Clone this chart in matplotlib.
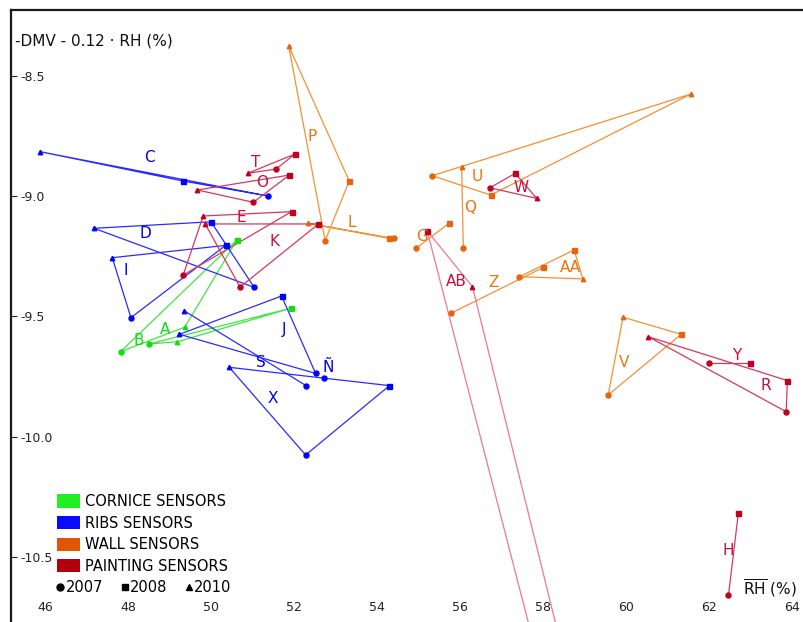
import numpy as np
import matplotlib
matplotlib.use("Agg")
import matplotlib.pyplot as plt
from matplotlib.patches import Patch
from matplotlib.lines import Line2D

nan = np.nan

# sensores y grupo al que pertenecen
sensors = ["A", "B",
           "C", "D", "I", "J", "Ñ", "S", "X",
           "G", "L", "P", "Q", "U", "V", "Z", "AA",
           "E", "H", "K", "O", "R", "T", "W", "Y", "AB"]
groups = ["cornice"] * 2 + ["ribs"] * 7 + ["wall"] * 8 + ["painting"] * 9

# humedad relativa media (%) por campaña
rh_2007 = [48.51, 47.82,
           51.37, 51.04, 48.07, 52.52, 52.73, 52.29, 52.28,
           54.94, 54.40, 52.75, 56.08, 55.33, 59.57, 55.78, 57.43,
           49.33, 62.47, 50.70, 51.02, 63.86, 51.57, 56.72, 62.01, 72.43]
rh_2008 = [51.92, 50.62,
           49.33, 50.00, 50.35, 51.70, nan, nan, 54.30,
           55.74, 54.30, 53.33, nan, 56.74, 61.33, 58.01, 58.75,
           51.94, 62.71, 52.59, 51.89, 63.89, 52.02, 57.33, 62.99, 55.21]
rh_2010 = [49.19, 49.37,
           45.88, 47.18, 47.62, 49.24, nan, 49.35, 50.44,
           nan, 52.33, 51.87, 56.04, 61.56, 59.93, nan, 58.96,
           49.81, nan, 49.86, 49.67, 60.54, 50.88, 57.85, nan, 56.30]

# -DMV - 0.12 RH por campaña
dmv_2007 = [-9.614, -9.646,
            -9.000, -9.379, -9.505, -9.736, -9.756, -9.787, -10.075,
            -9.217, -9.176, -9.185, -9.215, -8.916, -9.826, -9.487, -9.335,
            -9.328, -10.656, -9.378, -9.026, -9.895, -8.888, -8.966, -9.694, -20.63]
dmv_2008 = [-9.466, -9.183,
            -8.938, -9.107, -9.205, -9.415, nan, nan, -9.787,
            -9.113, -9.176, -8.938, nan, -8.996, -9.574, -9.296, -9.224,
            -9.065, -10.314, -9.116, -8.913, -9.766, -8.826, -8.906, -9.694, -9.145]
dmv_2010 = [-9.605, -9.544,
            -8.816, -9.134, -9.256, -9.574, nan, -9.476, -9.711,
            nan, -9.113, -8.376, -8.881, -8.577, -9.503, nan, -9.344,
            -9.083, nan, -9.116, -8.975, -9.584, -8.906, -9.010, nan, -9.376]

years = [2007, 2008, 2010]
year_markers = {2007: "o", 2008: "s", 2010: "^"}

legend_labels = ["CORNICE SENSORS", "RIBS SENSORS", "WALL SENSORS", "PAINTING SENSORS"]
xticks = [46, 48, 50, 52, 54, 56, 58, 60, 62, 64]
yticks = [-8.5, -9.0, -9.5, -10.0, -10.5]

# colores: (linea, marcador, etiqueta, leyenda)
colors = {
    "cornice": ("#3fe83f", "#12dd12", "#10dd10", "#22ee22"),
    "ribs": ("#2a2aff", "#0000ff", "#0000e6", "#0a0aff"),
    "wall": ("#f29235", "#e6630f", "#e8740c", "#e05508"),
    "painting": ("#d6385f", "#c0001e", "#c4123c", "#b00010"),
}

# posicion de las etiquetas de cada sensor
label_pos = {
    "P": (52.43, -8.755), "C": (48.51, -8.842), "T": (51.08, -8.859),
    "O": (51.23, -8.946), "E": (50.72, -9.091), "D": (48.41, -9.154),
    "L": (53.40, -9.112), "K": (51.54, -9.187), "I": (47.95, -9.311),
    "G": (55.08, -9.170), "U": (56.41, -8.917), "W": (57.47, -8.963),
    "Q": (56.24, -9.046), "AB": (55.90, -9.353), "Z": (56.80, -9.357),
    "AA": (58.67, -9.295), "A": (48.89, -9.556), "B": (48.27, -9.598),
    "J": (51.76, -9.552), "S": (51.20, -9.689), "Ñ": (52.82, -9.710),
    "X": (51.49, -9.842), "V": (59.95, -9.689), "Y": (62.67, -9.664),
    "R": (63.37, -9.788), "H": (62.46, -10.473),
}

plt.rcParams["font.family"] = ["DejaVu Sans"]

fig = plt.figure(figsize=(8.04, 6.22), dpi=100)
ax = fig.add_axes([11 / 804, 0, 1 - 11 / 804, 1 - 10 / 622])

rh = np.array([rh_2007, rh_2008, rh_2010]).T
dmv = np.array([dmv_2007, dmv_2008, dmv_2010]).T

for i, name in enumerate(sensors):
    line_c, mark_c, text_c, _ = colors[groups[i]]
    ok = ~np.isnan(rh[i])
    xs = rh[i][ok]
    ys = dmv[i][ok]
    if len(xs) > 2:
        xs = np.append(xs, xs[0])
        ys = np.append(ys, ys[0])
    if len(xs) > 1:
        lc = "#e87a92" if name == "AB" else line_c
        ax.plot(xs, ys, color=lc, lw=0.9, zorder=2)
    for j, yr in enumerate(years):
        if ok[j]:
            ax.plot(rh[i][j], dmv[i][j], ls="none", marker=year_markers[yr],
                    ms=3.6 if yr != 2010 else 3.2, color=mark_c, mec=mark_c, zorder=3)
    lx, ly = label_pos[name]
    ax.text(lx, ly, name, color=text_c, fontsize=11, ha="center", va="center", zorder=4)

ax.set_xlim(45.18, 64.29)
ax.set_ylim(-10.768, -8.228)

for side in ["right", "bottom"]:
    ax.spines[side].set_visible(False)
for side in ["left", "top"]:
    ax.spines[side].set_linewidth(1.6)
    ax.spines[side].set_color("#1a1a1a")

ax.set_yticks(yticks)
ax.set_yticklabels([f"{v:.1f}" for v in yticks])
ax.tick_params(axis="y", direction="in", length=4, width=0.8, pad=-7,
               labelsize=9, colors="#222222")
for lab in ax.get_yticklabels():
    lab.set_horizontalalignment("left")

ax.set_xticks(xticks)
ax.set_xticklabels([str(v) for v in xticks])
ax.tick_params(axis="x", length=0, pad=-15, labelsize=9, colors="#222222")

ax.text(4 / 793, 1 - 31 / 612, "-DMV - 0.12 · RH (%)", transform=ax.transAxes,
        fontsize=11, ha="left", va="center", color="#111111")
ax.text(786 / 793, 1 - 578 / 612, r"$\overline{\mathrm{RH}}$ (%)", transform=ax.transAxes,
        fontsize=11, ha="right", va="center", color="#111111")

# leyenda de grupos
handles = [Patch(facecolor=colors[g][3], edgecolor="none")
           for g in ["cornice", "ribs", "wall", "painting"]]
leg1 = ax.legend(handles, legend_labels, loc="upper left",
                 bbox_to_anchor=(57 / 804, 1 - 494 / 622), bbox_transform=fig.transFigure,
                 frameon=False, fontsize=10.5, handlelength=1.6, handleheight=1.0,
                 handletextpad=0.35, labelspacing=0.45, borderpad=0, borderaxespad=0)
ax.add_artist(leg1)

# leyenda de campañas
year_handles = [Line2D([], [], ls="none", marker=year_markers[y], color="black",
                       ms=5 if y != 2010 else 4) for y in years]
ax.legend(year_handles, [str(y) for y in years], loc="upper left", ncol=3,
          bbox_to_anchor=(56 / 804, 1 - 580 / 622), bbox_transform=fig.transFigure,
          frameon=False, fontsize=10.5, handlelength=0.6, handletextpad=0.05,
          columnspacing=1.2, borderpad=0, borderaxespad=0)

fig.savefig("out.png", dpi=100)
